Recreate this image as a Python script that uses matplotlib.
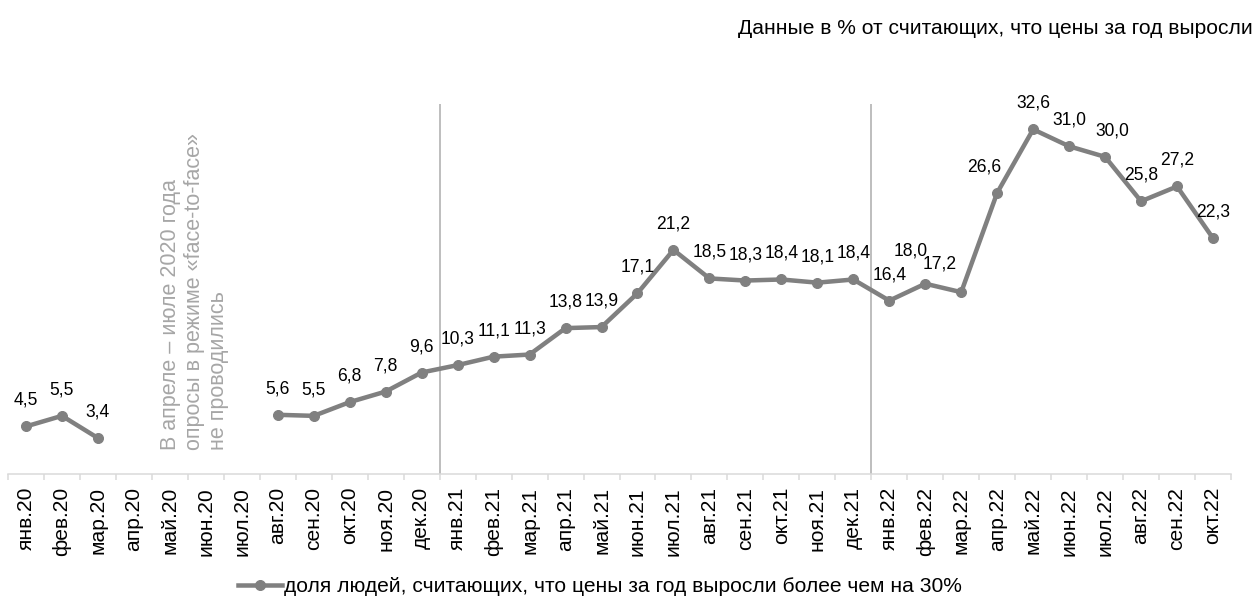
import numpy as np
import matplotlib
matplotlib.use("Agg")
import matplotlib.pyplot as plt

plt.rcParams["font.family"] = ["Liberation Sans", "DejaVu Sans"]

months = ["янв.20", "фев.20", "мар.20", "апр.20", "май.20", "июн.20", "июл.20",
          "авг.20", "сен.20", "окт.20", "ноя.20", "дек.20",
          "янв.21", "фев.21", "мар.21", "апр.21", "май.21", "июн.21", "июл.21",
          "авг.21", "сен.21", "окт.21", "ноя.21", "дек.21",
          "янв.22", "фев.22", "мар.22", "апр.22", "май.22", "июн.22", "июл.22",
          "авг.22", "сен.22", "окт.22"]
share = [4.5, 5.5, 3.4, np.nan, np.nan, np.nan, np.nan,
         5.6, 5.5, 6.8, 7.8, 9.6,
         10.3, 11.1, 11.3, 13.8, 13.9, 17.1, 21.2,
         18.5, 18.3, 18.4, 18.1, 18.4,
         16.4, 18.0, 17.2, 26.6, 32.6, 31.0, 30.0,
         25.8, 27.2, 22.3]
year_breaks = [11.5, 23.5]

series_name = "доля людей, считающих, что цены за год выросли более чем на 30%"
note = "Данные в % от считающих, что цены за год выросли"
gap_text = "В апреле – июле 2020 года\nопросы в режиме «face-to-face»\nне проводились"

# label nudges (px) where the labels were moved to avoid the line
label_shift = {25: (-15, 7), 26: (-22, 2), 27: (-13, 0), 30: (7, 0)}

LINE = "#808080"

fig = plt.figure(figsize=(1257 / 72, 600 / 72), dpi=72)
ax = fig.add_axes([8 / 1257, 126 / 600, 1223 / 1257, 370 / 600])

x = np.arange(len(months))
ax.plot(x, share, color=LINE, lw=4.5, marker="o", ms=10, label=series_name, zorder=3)

for xi, v in zip(x, share):
    if np.isnan(v):
        continue
    dx, dy = label_shift.get(xi, (0, 0))
    ax.annotate(f"{v:.1f}".replace(".", ","), (xi, v), xytext=(dx, 26 + dy),
                textcoords="offset points", ha="center", va="center",
                fontsize=17.5, color="black")

for b in year_breaks:
    ax.axvline(b, color="#bfbfbf", lw=2, zorder=1)

ax.text(4.68, 2.25, gap_text, rotation=90, ha="center", va="bottom",
        fontsize=21.5, color="#a6a6a6", linespacing=1.18, multialignment="left")

ax.set_xlim(-0.5, len(months) - 0.5)
ax.set_ylim(0, 35)
ax.set_yticks([])
for s in ["left", "right", "top"]:
    ax.spines[s].set_visible(False)
ax.spines["bottom"].set_color("#d9d9d9")
ax.spines["bottom"].set_linewidth(1.5)

ax.set_xticks(x)
ax.set_xticklabels(months, rotation=90, fontsize=21)
ax.tick_params(axis="x", which="major", length=0, pad=13)
ax.set_xticks(np.arange(-0.5, len(months)), minor=True)
ax.tick_params(axis="x", which="minor", length=6, width=1.5, color="#d9d9d9")

fig.text(1253 / 1257, 1 - 28 / 600, note, ha="right", va="center", fontsize=21)
fig.legend(loc="center", bbox_to_anchor=(600 / 1257, 13 / 600), frameon=False,
           fontsize=21, handlelength=2.1, handletextpad=0.1)

fig.savefig("out.png", dpi=72)
